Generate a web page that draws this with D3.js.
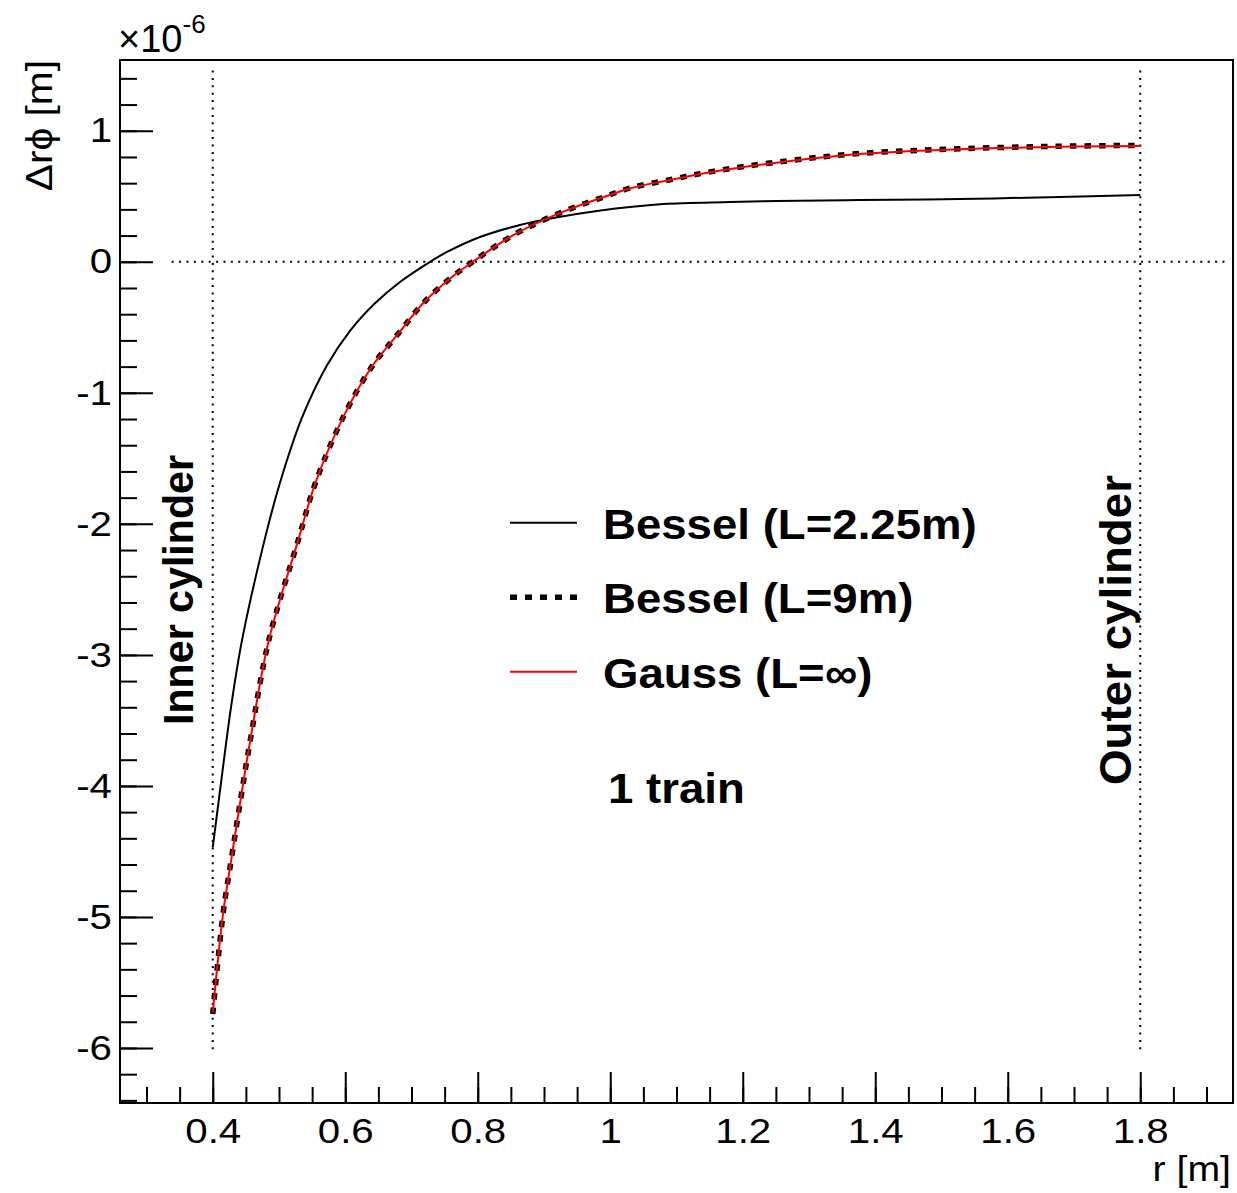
<!DOCTYPE html>
<html>
<head>
<meta charset="utf-8">
<script src="https://cdn.jsdelivr.net/npm/d3@7"></script>
<style>
  html, body { margin: 0; padding: 0; background: #fff; }
  svg { display: block; }
  text { font-family: "Liberation Sans", Arial, Helvetica, sans-serif; fill: #000; }
</style>
</head>
<body>
<svg id="chart" width="1237" height="1193"></svg>
<script>
// Radial distortion Δrφ versus radius r, for one train.
const rBesselShort = [0.4, 0.414, 0.4276, 0.4442, 0.4789, 0.5015, 0.5347, 0.5725, 0.6072, 0.6449, 0.6826, 0.728, 0.7536, 0.8034, 0.8638, 0.9136, 0.98, 1.0796, 1.1808, 1.2517, 1.377, 1.528, 1.679, 1.8];
const vBesselShort = [-4.47, -3.915, -3.398, -2.887, -2.109, -1.686, -1.19, -0.79, -0.527, -0.317, -0.154, 0.0, 0.075, 0.189, 0.281, 0.334, 0.388, 0.441, 0.456, 0.464, 0.471, 0.479, 0.495, 0.51];

const rBesselLong = [0.4, 0.4157, 0.4277, 0.4467, 0.4567, 0.4845, 0.5287, 0.5548, 0.5975, 0.6402, 0.6803, 0.7192, 0.7583, 0.7925, 0.8537, 0.8989, 0.9417, 0.9844, 1.0295, 1.0898, 1.155, 1.2506, 1.376, 1.527, 1.678, 1.8];
const vBesselLong = [-5.74, -4.97, -4.57, -3.955, -3.65, -2.89, -2.13, -1.69, -1.18, -0.80, -0.547, -0.307, -0.127, 0.0, 0.204, 0.318, 0.408, 0.484, 0.562, 0.626, 0.690, 0.760, 0.826, 0.862, 0.882, 0.888];

const rGauss = [0.4, 0.4157, 0.4277, 0.4467, 0.4567, 0.4845, 0.5287, 0.5548, 0.5975, 0.6402, 0.6803, 0.7192, 0.7583, 0.7925, 0.8537, 0.8989, 0.9417, 0.9844, 1.0295, 1.0898, 1.155, 1.2506, 1.376, 1.527, 1.678, 1.8];
const vGauss = [-5.73, -4.97, -4.57, -3.955, -3.65, -2.89, -2.13, -1.69, -1.18, -0.80, -0.547, -0.307, -0.127, 0.0, 0.204, 0.318, 0.408, 0.484, 0.560, 0.624, 0.687, 0.756, 0.822, 0.858, 0.878, 0.883];

const seriesNames = ["Bessel (L=2.25m)", "Bessel (L=9m)", "Gauss (L=\u221E)"];

const xMajorTicks = [0.4, 0.6, 0.8, 1.0, 1.2, 1.4, 1.6, 1.8];
const xTickLabels = ["0.4", "0.6", "0.8", "1", "1.2", "1.4", "1.6", "1.8"];
const yMajorTicks = [-6, -5, -4, -3, -2, -1, 0, 1];
const yTickLabels = ["-6", "-5", "-4", "-3", "-2", "-1", "0", "1"];

const xDomain = [0.26, 1.94];
const yDomain = [-6.42, 1.54];
const cylinderR = [0.4, 1.8];
const cylinderSpan = [-6.03, 1.46];
const zeroSpan = [0.338, 1.93];

const svg = d3.select("#chart");
const frame = { left: 120, right: 1233, top: 60, bottom: 1103 };

const x = d3.scaleLinear().domain(xDomain).range([frame.left, frame.right]);
const y = d3.scaleLinear().domain(yDomain).range([frame.bottom, frame.top]);

// widen glyphs horizontally by factor k
function stretch(sel, k) {
  sel.each(function () {
    const w = this.getComputedTextLength();
    this.setAttribute("textLength", (w * k).toFixed(2));
    this.setAttribute("lengthAdjust", "spacingAndGlyphs");
  });
}

// reference lines: cylinders and zero
const refStyle = g => g.attr("stroke", "#000").attr("stroke-width", 2).attr("stroke-dasharray", "2,5.4").attr("fill", "none");
cylinderR.forEach(r => {
  svg.append("line").call(refStyle)
    .attr("x1", x(r)).attr("x2", x(r))
    .attr("y1", y(cylinderSpan[1])).attr("y2", y(cylinderSpan[0]));
});
svg.append("line").call(refStyle)
  .attr("x1", x(zeroSpan[0])).attr("x2", x(zeroSpan[1]))
  .attr("y1", y(0)).attr("y2", y(0));

// curves
const line = d3.line().x(d => x(d[0])).y(d => y(d[1])).curve(d3.curveCatmullRom.alpha(0.5));
const zip = (a, b) => a.map((v, i) => [v, b[i]]);

svg.append("path").datum(zip(rBesselShort, vBesselShort))
  .attr("d", line).attr("fill", "none").attr("stroke", "#000").attr("stroke-width", 2);
svg.append("path").datum(zip(rBesselLong, vBesselLong))
  .attr("d", line).attr("fill", "none").attr("stroke", "#000").attr("stroke-width", 5.5)
  .attr("stroke-dasharray", "6.5,8");
svg.append("path").datum(zip(rGauss, vGauss))
  .attr("d", line).attr("fill", "none").attr("stroke", "#ff0000").attr("stroke-width", 2);

// axes
const yMinor = d3.range(-6.4, 1.5, 0.2).map(v => +v.toFixed(1));
const xMinor = d3.range(0.3, 1.95, 0.05).map(v => +v.toFixed(2));

const yAxisMinor = svg.append("g").attr("transform", `translate(${frame.left},0)`)
  .call(d3.axisLeft(y).tickValues(yMinor).tickSize(-17).tickFormat(""));
const yAxis = svg.append("g").attr("transform", `translate(${frame.left},0)`)
  .call(d3.axisLeft(y).tickValues(yMajorTicks).tickSize(-33).tickPadding(8)
    .tickFormat((d, i) => yTickLabels[i]));
const xAxisMinor = svg.append("g").attr("transform", `translate(0,${frame.bottom})`)
  .call(d3.axisBottom(x).tickValues(xMinor).tickSize(-16).tickFormat(""));
const xAxis = svg.append("g").attr("transform", `translate(0,${frame.bottom})`)
  .call(d3.axisBottom(x).tickValues(xMajorTicks).tickSize(-31).tickPadding(15)
    .tickFormat((d, i) => xTickLabels[i]));

[yAxisMinor, yAxis, xAxisMinor, xAxis].forEach(g => {
  g.select(".domain").remove();
  g.selectAll(".tick line").attr("stroke", "#000").attr("stroke-width", 2);
  g.selectAll("text").attr("font-family", "Liberation Sans, Arial, sans-serif")
    .attr("font-size", 35).attr("fill", "#000");
});
stretch(yAxis.selectAll("text"), 1.15);
stretch(xAxis.selectAll("text"), 1.15);

// frame
svg.append("rect")
  .attr("x", frame.left).attr("y", frame.top)
  .attr("width", frame.right - frame.left).attr("height", frame.bottom - frame.top)
  .attr("fill", "none").attr("stroke", "#000").attr("stroke-width", 2);

// axis titles
const xt = svg.append("text").attr("x", 1231).attr("y", 1181).attr("text-anchor", "end")
  .attr("font-size", 35).text("r [m]");
stretch(xt, 1.12);

const yt = svg.append("text").attr("transform", `translate(52,${frame.top}) rotate(-90)`)
  .attr("text-anchor", "end").attr("font-size", 36).text("\u0394r\u03D5 [m]");
stretch(yt, 1.13);

const exp = svg.append("text").attr("x", 118).attr("y", 52).attr("font-size", 38);
exp.append("tspan").text("\u00D710");
exp.append("tspan").attr("font-size", 26).attr("dy", -19).text("-6");

// cylinder labels
svg.append("text").attr("transform", `translate(193,590) rotate(-90)`)
  .attr("text-anchor", "middle").attr("font-weight", "bold").attr("font-size", 43)
  .attr("textLength", 270).attr("lengthAdjust", "spacingAndGlyphs")
  .text("Inner cylinder");
svg.append("text").attr("transform", `translate(1131,630) rotate(-90)`)
  .attr("text-anchor", "middle").attr("font-weight", "bold").attr("font-size", 45)
  .attr("textLength", 310).attr("lengthAdjust", "spacingAndGlyphs")
  .text("Outer cylinder");

// legend
const legendY = [522.7, 597.3, 671.7];
const legend = svg.append("g");
const legendStyles = [
  { stroke: "#000", width: 2, dash: null },
  { stroke: "#000", width: 5.5, dash: "7,8" },
  { stroke: "#ff0000", width: 2, dash: null }
];
seriesNames.forEach((name, i) => {
  const s = legendStyles[i];
  legend.append("line").attr("x1", 510).attr("x2", 577)
    .attr("y1", legendY[i]).attr("y2", legendY[i])
    .attr("stroke", s.stroke).attr("stroke-width", s.width)
    .attr("stroke-dasharray", s.dash);
  const t = legend.append("text").attr("x", 603).attr("y", legendY[i] + 16)
    .attr("font-weight", "bold").attr("font-size", 43).text(name);
  stretch(t, 1.06);
});
const train = svg.append("text").attr("x", 608).attr("y", 803)
  .attr("font-weight", "bold").attr("font-size", 43).text("1 train");
stretch(train, 1.06);
</script>
</body>
</html>
